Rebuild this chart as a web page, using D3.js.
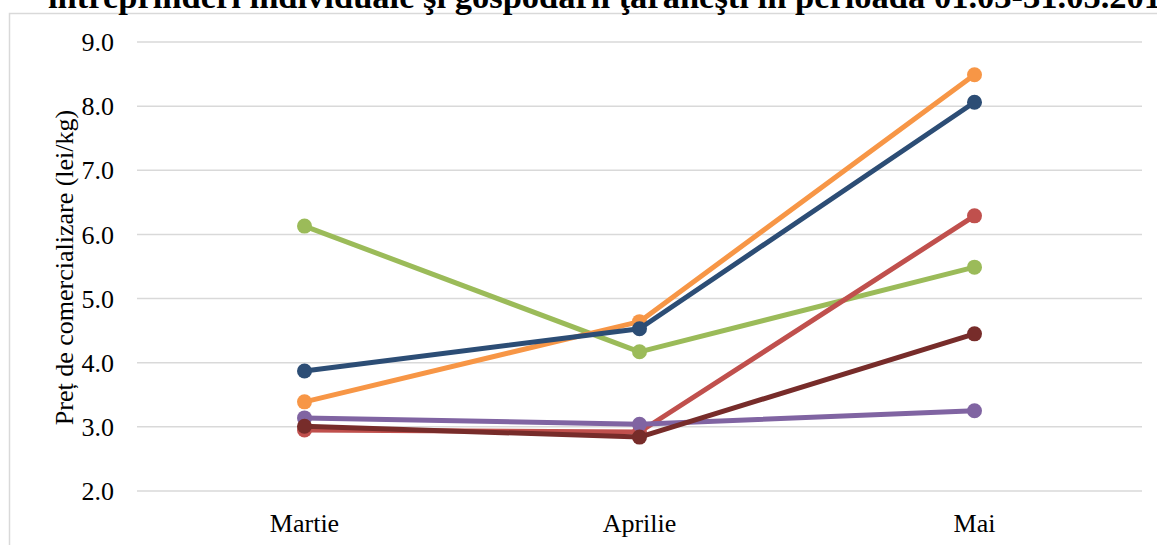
<!DOCTYPE html>
<html>

<head>
    <meta charset="utf-8">
    <title>Pret de comercializare</title>
    <script type="text/javascript" src="https://d3js.org/d3.v7.min.js"></script>

    <style>
        body {
            margin: 0;
            background: #fff;
        }

        svg {
            display: block;
            font-family: "Liberation Serif", "Times New Roman", serif;
        }

        .grid line {
            stroke: #d9d9d9;
            stroke-width: 1.5;
        }
    </style>

</head>

<body>
</body>

<script type="text/javascript">
    //Width and height
    var w = 1157;
    var h = 545;

    //Data
    var months = ["Martie", "Aprilie", "Mai"];
    var yTicks = [2, 3, 4, 5, 6, 7, 8, 9];
    var colors = ["#9bbb59", "#c0504d", "#8064a2", "#f79646", "#2c4d75", "#772c2a"];
    var green = [6.13, 4.17, 5.49];
    var red = [2.95, 2.92, 6.29];
    var purple = [3.14, 3.04, 3.25];
    var orange = [3.39, 4.64, 8.49];
    var navy = [3.87, 4.53, 8.06];
    var darkred = [3.01, 2.84, 4.45];
    var series = [green, red, purple, orange, navy, darkred];

    var title = "întreprinderi individuale şi gospodării ţărăneşti în perioada 01.03-31.05.2016";

    //plot area (not "top": that name belongs to window)
    var plotLeft = 137, plotRight = 1142, plotTop = 42, plotBottom = 491;

    var x = d3.scaleBand()
        .domain(months)
        .range([plotLeft, plotRight]);

    var y = d3.scaleLinear()
        .domain([2, 9])
        .range([plotBottom, plotTop]);

    var svg = d3.select("body")
        .append("svg")
        .attr("width", w)
        .attr("height", h);

    //chart border
    svg.append("rect")
        .attr("x", 9.5)
        .attr("y", 13.5)
        .attr("width", w + 20)
        .attr("height", h)
        .attr("fill", "none")
        .attr("stroke", "#d9d9d9")
        .attr("stroke-width", 1.5);

    //title, cut off by the top edge
    svg.append("text")
        .attr("x", 48)
        .attr("y", 8)
        .attr("font-size", 34.5)
        .attr("font-weight", "bold")
        .text(title);

    //gridlines
    svg.append("g")
        .attr("class", "grid")
        .selectAll("line")
        .data(yTicks)
        .enter()
        .append("line")
        .attr("x1", plotLeft)
        .attr("x2", plotRight)
        .attr("y1", function(d) { return y(d); })
        .attr("y2", function(d) { return y(d); });

    //y axis
    var yAxis = svg.append("g")
        .attr("transform", "translate(" + (plotLeft - 23) + ",0)")
        .call(d3.axisLeft(y).tickValues(yTicks).tickFormat(d3.format(".1f")).tickSize(0));
    yAxis.select(".domain").remove();
    yAxis.selectAll("text")
        .attr("font-family", "Liberation Serif")
        .attr("font-size", 26)
        .attr("fill", "#000")
        .attr("x", 0)
        .attr("dy", "0.33em");

    //x axis
    var xAxis = svg.append("g")
        .attr("transform", "translate(0," + plotBottom + ")")
        .call(d3.axisBottom(x).tickSize(0));
    xAxis.select(".domain").remove();
    xAxis.selectAll("text")
        .attr("font-family", "Liberation Serif")
        .attr("font-size", 26)
        .attr("fill", "#000")
        .attr("y", 41)
        .attr("dy", 0);

    //y axis title
    svg.append("text")
        .attr("transform", "translate(73," + ((plotTop + plotBottom) / 2 + 1) + ") rotate(-90)")
        .attr("text-anchor", "middle")
        .attr("font-size", 26)
        .text("Preț de comercializare (lei/kg)");

    var line = d3.line()
        .x(function(d, i) { return x(months[i]) + x.bandwidth() / 2; })
        .y(function(d) { return y(d); });

    //lines and markers
    var groups = svg.selectAll(".series")
        .data(series)
        .enter()
        .append("g")
        .attr("class", "series");

    groups.append("path")
        .attr("d", function(d) { return line(d); })
        .attr("fill", "none")
        .attr("stroke", function(d, i) { return colors[i]; })
        .attr("stroke-width", 5)
        .attr("stroke-linejoin", "round");

    groups.selectAll("circle")
        .data(function(d, i) { return d.map(function(v) { return { v: v, c: colors[i] }; }); })
        .enter()
        .append("circle")
        .attr("cx", function(d, i) { return x(months[i]) + x.bandwidth() / 2; })
        .attr("cy", function(d) { return y(d.v); })
        .attr("r", 7.5)
        .attr("fill", function(d) { return d.c; });
</script>

</html>
